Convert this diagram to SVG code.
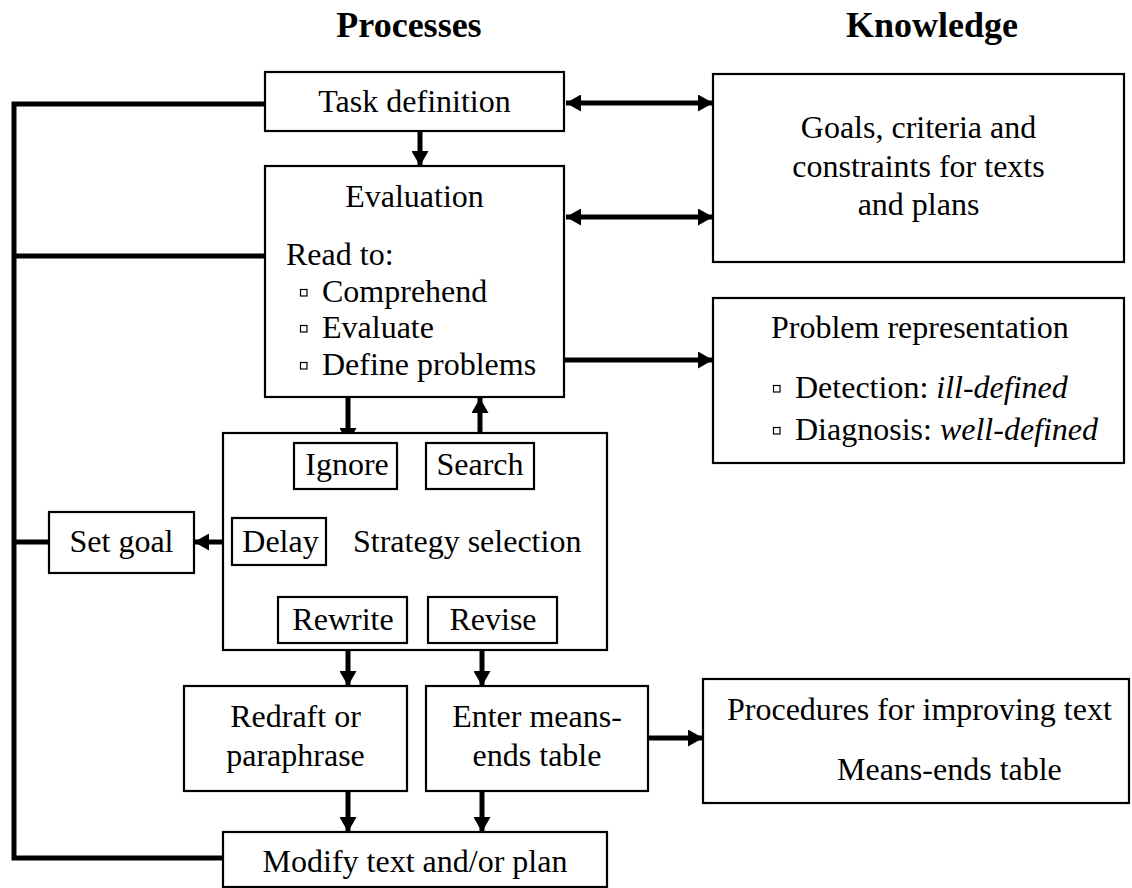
<svg xmlns="http://www.w3.org/2000/svg" width="1132" height="888" viewBox="0 0 1132 888">
  <style>
    text { font-family: "Liberation Serif", "Times New Roman", serif; font-size: 32px; fill: #000; }
    .title { font-weight: bold; font-size: 36px; text-anchor: middle; }
    .c { text-anchor: middle; }
    .box { fill: #fff; stroke: #000; stroke-width: 2.2; }
    .bullet { fill: #fff; stroke: #000; stroke-width: 1.2; }
    .wire { fill: none; stroke: #000; stroke-width: 5; }
    .head { fill: #000; stroke: none; }
  </style>
  <defs>
    <marker id="arrow" viewBox="0 0 15 17" refX="15" refY="8.5" markerWidth="15" markerHeight="17" markerUnits="userSpaceOnUse" orient="auto-start-reverse">
      <path class="head" d="M0,0 L15,8.5 L0,17 Z"/>
    </marker>
  </defs>

  <rect width="1132" height="888" fill="#fff"/>

  <!-- column headings -->
  <text class="title" x="409" y="37">Processes</text>
  <text class="title" x="932" y="37">Knowledge</text>

  <!-- connectors -->
  <g id="connectors">
    <!-- feedback spine on the left -->
    <path class="wire" d="M265,104 H14 V858 H223"/>
    <path class="wire" d="M14,256 H265"/>
    <path class="wire" d="M14,542 H49"/>
    <!-- task definition to evaluation -->
    <path class="wire" d="M420,131 V166" marker-end="url(#arrow)"/>
    <!-- process / knowledge links -->
    <path class="wire" d="M566,103 H713" marker-start="url(#arrow)" marker-end="url(#arrow)"/>
    <path class="wire" d="M566,217 H713" marker-start="url(#arrow)" marker-end="url(#arrow)"/>
    <path class="wire" d="M564,360 H713" marker-end="url(#arrow)"/>
    <!-- evaluation and strategy selection -->
    <path class="wire" d="M348,397 V443" marker-end="url(#arrow)"/>
    <path class="wire" d="M480,443 V398" marker-end="url(#arrow)"/>
    <path class="wire" d="M232,542 H194" marker-end="url(#arrow)"/>
    <path class="wire" d="M348,643 V686" marker-end="url(#arrow)"/>
    <path class="wire" d="M482,643 V686" marker-end="url(#arrow)"/>
    <path class="wire" d="M348,791 V832" marker-end="url(#arrow)"/>
    <path class="wire" d="M482,791 V832" marker-end="url(#arrow)"/>
    <path class="wire" d="M648,738 H703" marker-end="url(#arrow)"/>
  </g>

  <g id="task-definition">
    <rect class="box" x="265" y="72" width="299" height="59"/>
    <text class="c" x="414.5" y="112">Task definition</text>
  </g>

  <g id="evaluation">
    <rect class="box" x="265" y="166" width="299" height="231"/>
    <text class="c" x="414.5" y="207">Evaluation</text>
    <text x="286" y="265">Read to:</text>
    <rect class="bullet" x="300.5" y="289.5" width="6.5" height="6.5"/>
    <text x="322" y="302">Comprehend</text>
    <rect class="bullet" x="300.5" y="325.5" width="6.5" height="6.5"/>
    <text x="322" y="338">Evaluate</text>
    <rect class="bullet" x="300.5" y="362.5" width="6.5" height="6.5"/>
    <text x="322" y="375">Define problems</text>
  </g>

  <g id="goals-criteria">
    <rect class="box" x="713" y="74" width="411" height="188"/>
    <text class="c" x="918.5" y="138">Goals, criteria and</text>
    <text class="c" x="918.5" y="176.5">constraints for texts</text>
    <text class="c" x="918.5" y="215">and plans</text>
  </g>

  <g id="problem-representation">
    <rect class="box" x="713" y="298" width="411" height="165"/>
    <text x="771" y="338">Problem representation</text>
    <rect class="bullet" x="773.5" y="385.5" width="6.5" height="6.5"/>
    <text x="795" y="398">Detection: <tspan font-style="italic">ill-defined</tspan></text>
    <rect class="bullet" x="773.5" y="427.5" width="6.5" height="6.5"/>
    <text x="795" y="440">Diagnosis: <tspan font-style="italic">well-defined</tspan></text>
  </g>

  <g id="strategy-selection">
    <rect class="box" x="223" y="433" width="384" height="217"/>
    <text x="353" y="552">Strategy selection</text>
  </g>

  <g id="ignore">
    <rect class="box" x="294" y="443" width="103" height="46"/>
    <text class="c" x="347" y="475">Ignore</text>
  </g>

  <g id="search">
    <rect class="box" x="426" y="443" width="108" height="46"/>
    <text class="c" x="480" y="475">Search</text>
  </g>

  <g id="delay">
    <rect class="box" x="232" y="518" width="94" height="47"/>
    <text class="c" x="280.5" y="552">Delay</text>
  </g>

  <g id="rewrite">
    <rect class="box" x="278" y="597" width="129" height="46"/>
    <text class="c" x="343" y="630">Rewrite</text>
  </g>

  <g id="revise">
    <rect class="box" x="428" y="597" width="129" height="46"/>
    <text class="c" x="493" y="630">Revise</text>
  </g>

  <g id="set-goal">
    <rect class="box" x="49" y="512" width="145" height="61"/>
    <text class="c" x="121.5" y="552">Set goal</text>
  </g>

  <g id="redraft">
    <rect class="box" x="184" y="686" width="223" height="105"/>
    <text class="c" x="295.5" y="727">Redraft or</text>
    <text class="c" x="295.5" y="766">paraphrase</text>
  </g>

  <g id="means-ends">
    <rect class="box" x="426" y="686" width="222" height="105"/>
    <text class="c" x="537" y="727">Enter means-</text>
    <text class="c" x="537" y="766">ends table</text>
  </g>

  <g id="procedures">
    <rect class="box" x="703" y="679" width="426" height="124"/>
    <text x="727" y="720">Procedures for improving text</text>
    <text x="837" y="780">Means-ends table</text>
  </g>

  <g id="modify">
    <rect class="box" x="223" y="832" width="384" height="55"/>
    <text class="c" x="415" y="872">Modify text and/or plan</text>
  </g>
</svg>
